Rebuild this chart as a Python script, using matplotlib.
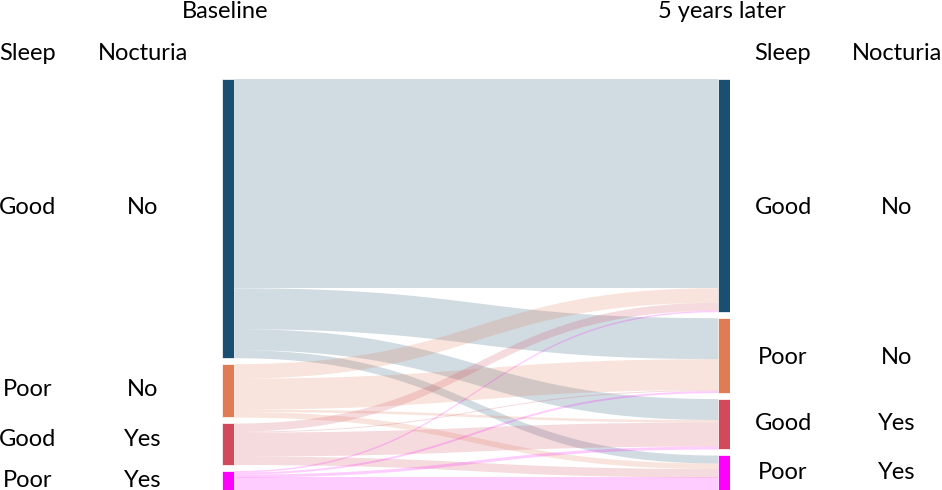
import numpy as np
import matplotlib
matplotlib.use('Agg')
import matplotlib.pyplot as plt

# --- DATA ---
sleep_labels = ["Good", "Poor", "Good", "Poor"]
nocturia_labels = ["No", "No", "Yes", "Yes"]
node_colors = ["#1b4f72", "#e07b54", "#d1495b", "#ff00ff"]

# flows[baseline group][5-year group]
flow_good_no = [209, 41, 21, 8]
flow_poor_no = [14.5, 31, 2.5, 5.5]
flow_good_yes = [8, 1, 24, 8.5]
flow_poor_yes = [1.5, 2, 3, 13]
flows = np.array([flow_good_no, flow_poor_no, flow_good_yes, flow_poor_yes])

# --- LAYOUT ---
W, H = 942, 490
GAP = 6          # gap between nodes, in flow units
NODE_W = 0.024   # node width, axes fraction
LINK_ALPHA = 0.2
FONT = "Lato"
FS = 17

plt.rcParams['font.family'] = [FONT, 'DejaVu Sans']

fig = plt.figure(figsize=(W / 100, H / 100), dpi=100)
ax = fig.add_axes([222 / W, 0, (730 - 222) / W, (490 - 79) / H])

left_tot = flows.sum(axis=1)
right_tot = flows.sum(axis=0)
total = left_tot.sum() + GAP * (len(left_tot) - 1)

left_top = np.concatenate([[0], np.cumsum(left_tot + GAP)[:-1]])
right_top = np.concatenate([[0], np.cumsum(right_tot + GAP)[:-1]])

# links (cubic bezier bands, plotly-style)
x0, x1 = NODE_W, 1 - NODE_W
t = np.linspace(0, 1, 120)
xm = (x0 + x1) / 2
xs = (1 - t) ** 3 * x0 + 3 * (1 - t) ** 2 * t * xm + 3 * (1 - t) * t ** 2 * xm + t ** 3 * x1
ease = 3 * t ** 2 - 2 * t ** 3

src_off = left_top.copy()
for s in range(4):
    for k in range(4):
        v = flows[s, k]
        ys0 = src_off[s]
        # at the target, stack after links from earlier sources
        yt0 = right_top[k] + flows[:s, k].sum()
        top = ys0 + (yt0 - ys0) * ease
        bot = top + v
        ax.fill_between(xs, top, bot, color=node_colors[s], alpha=LINK_ALPHA, lw=0)
        src_off[s] += v

# nodes
ax.bar(np.full(4, NODE_W / 2), left_tot, bottom=left_top, width=NODE_W,
       color=node_colors, edgecolor="white", linewidth=0.5)
ax.bar(np.full(4, 1 - NODE_W / 2), right_tot, bottom=right_top, width=NODE_W,
       color=node_colors, edgecolor="white", linewidth=0.5)

ax.set_xlim(0, 1)
ax.set_ylim(total, 0)
ax.axis('off')


def ptext(x, y, s):
    fig.text(x / W, 1 - y / H, s, ha='center', va='center', fontsize=FS, color='black')


# titles and headers
ptext(225, 11, "Baseline")
ptext(722, 11, "5 years later")
ptext(28, 54, "Sleep")
ptext(143, 54, "Nocturia")
ptext(783, 54, "Sleep")
ptext(897, 54, "Nocturia")

left_rows = [208, 389, 439, 480]
right_rows = [208, 358, 423, 472]
for i in range(4):
    ptext(28, left_rows[i], sleep_labels[i])
    ptext(143, left_rows[i], nocturia_labels[i])
    ptext(783, right_rows[i], sleep_labels[i])
    ptext(897, right_rows[i], nocturia_labels[i])

plt.savefig("out.png", dpi=100)
